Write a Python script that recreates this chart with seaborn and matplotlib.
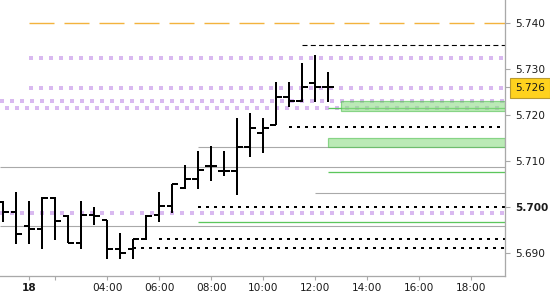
import matplotlib
matplotlib.use("Agg")
import matplotlib.pyplot as plt
from matplotlib.patches import Rectangle
import numpy as np
import seaborn as sns

# ---------------- data ----------------
bar_hours = [0.0, 0.5, 1.0, 1.5, 2.0, 2.5, 3.0, 3.5, 4.0, 4.5, 5.0, 5.5, 6.0,
             6.5, 7.0, 7.5, 8.0, 8.5, 9.0, 9.5, 10.0, 10.5, 11.0, 11.5, 12.0, 12.5]
opens = [5.7011, 5.6989, 5.6958, 5.6952, 5.7019, 5.6980, 5.6922, 5.6982, 5.6970,
         5.6909, 5.6909, 5.6929, 5.6982, 5.7001, 5.7041, 5.7061, 5.7089, 5.7078,
         5.7078, 5.7130, 5.7160, 5.7178, 5.7239, 5.7230, 5.7268, 5.7261]
highs = [5.7012, 5.7031, 5.7012, 5.7020, 5.7020, 5.6982, 5.7012, 5.7000, 5.6970,
         5.6942, 5.6930, 5.6982, 5.7031, 5.7049, 5.7090, 5.7121, 5.7132, 5.7121,
         5.7192, 5.7204, 5.7192, 5.7271, 5.7271, 5.7313, 5.7330, 5.7292]
lows = [5.6967, 5.6919, 5.6919, 5.6907, 5.6928, 5.6920, 5.6907, 5.6960, 5.6886,
        5.6886, 5.6886, 5.6928, 5.6967, 5.6987, 5.7038, 5.7038, 5.7056, 5.7067,
        5.7025, 5.7109, 5.7117, 5.7178, 5.7217, 5.7228, 5.7228, 5.7228]
closes = [5.6989, 5.6941, 5.6952, 5.7019, 5.6969, 5.6922, 5.6982, 5.6980, 5.6909,
          5.6899, 5.6929, 5.6980, 5.7001, 5.7049, 5.7061, 5.7080, 5.7089, 5.7078,
          5.7130, 5.7170, 5.7170, 5.7239, 5.7230, 5.7261, 5.7261, 5.7261]

x_tick_pos = [1, 2, 4, 6, 8, 10, 12, 14, 16, 18]
x_tick_labels = ["18", "", "04:00", "06:00", "08:00", "10:00", "12:00",
                 "14:00", "16:00", "18:00"]
y_tick_vals = [5.690, 5.700, 5.710, 5.720, 5.726, 5.730, 5.740]
last_price_label = "5.726"

X_MIN, X_MAX = -0.13, 19.31
Y_MIN, Y_MAX = 5.68493, 5.74493

orange_level, orange_start = 5.7400, 1.0
purple_levels = [5.7324, 5.7259, 5.7230, 5.7214, 5.6987]
purple_starts = [1.0, 1.0, X_MIN, X_MIN, X_MIN]
purple_offsets = [0, 0, 0, 5, 0]
black_dash_level, black_dash_start = 5.7352, 11.5
dotted_levels = [5.7173, 5.6999, 5.6929, 5.6911]
dotted_starts = [11.0, 7.5, 6.0, 5.0]
gray_levels = [5.7129, 5.7087, 5.7030, 5.6957]
gray_starts = [7.5, X_MIN, 12.0, X_MIN]
green_levels = [5.7214, 5.7076, 5.6966]
green_starts = [12.5, 12.5, 7.5]
zone_lows = [5.7207, 5.7129]
zone_highs = [5.7230, 5.7149]
zone_starts = [13.0, 12.5]

# ---------------- style ----------------
sns.set_theme(style="white")
plt.rcParams["font.family"] = ["DejaVu Sans"]
plt.rcParams["lines.scale_dashes"] = False
PX = 0.72  # points per pixel at 100 dpi

fig = plt.figure(figsize=(5.5, 3.0), dpi=100)
ax = fig.add_axes([0, 24 / 300, 505 / 550, 276 / 300])
ax.set_facecolor("white")

# horizontal levels
ax.hlines(orange_level, orange_start, X_MAX, color="#f3b33d", lw=1.4 * PX,
          linestyles=[(0, (25 * PX, 10 * PX))], zorder=1)
for lv, st, off in zip(purple_levels, purple_starts, purple_offsets):
    ax.hlines(lv, st, X_MAX, color="#d9b9f0", lw=4 * PX,
              linestyles=[(off * PX, (4 * PX, 6 * PX))], zorder=1,
              antialiased=False)
ax.hlines(black_dash_level, black_dash_start, X_MAX, color="black", lw=1.1 * PX,
          linestyles=[(0, (5 * PX, 3.3 * PX))], zorder=1)
for lv, st in zip(dotted_levels, dotted_starts):
    ax.hlines(lv, st, X_MAX, color="black", lw=2.0 * PX,
              linestyles=[(0, (2.4 * PX, 5.1 * PX))], zorder=1,
              antialiased=False)
for lv, st in zip(gray_levels, gray_starts):
    ax.hlines(lv, st, X_MAX, color="#a9a9a9", lw=1.1 * PX, zorder=1)
for lv, st in zip(green_levels, green_starts):
    ax.hlines(lv, st, X_MAX, color="#5cc65c", lw=1.3 * PX, zorder=1)
for lo, hi, st in zip(zone_lows, zone_highs, zone_starts):
    ax.add_patch(Rectangle((st, lo), X_MAX - st, hi - lo, facecolor="#8edc86",
                           alpha=0.6, edgecolor="#4fbf4f", lw=1.2 * PX, zorder=2))

# OHLC bars
bx = np.array(bar_hours)
tick = 0.22
ax.vlines(bx, lows, highs, color="black", lw=2.0 * PX, zorder=3, antialiased=False)
ax.hlines(opens, bx - tick, bx, color="black", lw=2.0 * PX, zorder=3, antialiased=False)
ax.hlines(closes, bx, bx + tick, color="black", lw=2.0 * PX, zorder=3, antialiased=False)

ax.set_xlim(X_MIN, X_MAX)
ax.set_ylim(Y_MIN, Y_MAX)

# axes styling
for s in ["left", "top"]:
    ax.spines[s].set_visible(False)
for s in ["right", "bottom"]:
    ax.spines[s].set_color("#a9a9a9")
    ax.spines[s].set_linewidth(1.3 * PX)

ax.yaxis.tick_right()
ax.set_yticks(y_tick_vals)
ylabels = [last_price_label if abs(v - 5.726) < 1e-6 else f"{v:.3f}" for v in y_tick_vals]
ax.set_yticklabels(ylabels)
ax.set_xticks(x_tick_pos)
ax.set_xticklabels(x_tick_labels)
ax.tick_params(axis="y", which="both", right=True, left=False, length=5 * PX,
               width=1.1 * PX, color="#a9a9a9", pad=3.5, labelsize=7.6,
               labelcolor="#1a1a1a")
ax.tick_params(axis="x", which="both", bottom=True, length=4 * PX,
               width=1.1 * PX, color="#a9a9a9", pad=2.5, labelsize=7.6,
               labelcolor="#1a1a1a")

for lab in ax.get_yticklabels():
    if lab.get_text() == "5.700":
        lab.set_fontweight("bold")
    if lab.get_text() == last_price_label:
        lab.set_bbox(dict(boxstyle="square,pad=0.48", facecolor="#ffd21e",
                          edgecolor="#b89a30", linewidth=0.8))
for lab in ax.get_xticklabels():
    if lab.get_text() == "18":
        lab.set_fontweight("bold")

ax.grid(False)
fig.savefig("out.png", dpi=100)
